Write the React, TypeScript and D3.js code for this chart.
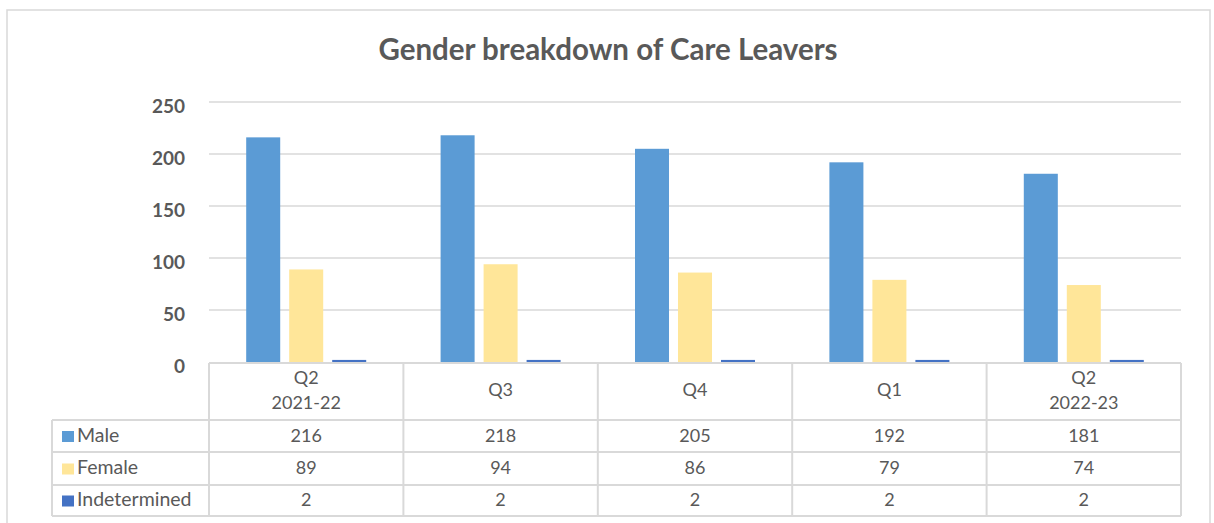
import React from 'react'
import * as d3 from 'd3'

const categories = [['Q2', '2021-22'], ['Q3'], ['Q4'], ['Q1'], ['Q2', '2022-23']]
const seriesNames = ['Male', 'Female', 'Indetermined']
const male = [216, 218, 205, 192, 181]
const female = [89, 94, 86, 79, 74]
const indetermined = [2, 2, 2, 2, 2]
const yTicks = [0, 50, 100, 150, 200, 250]
const colors = ['#5b9bd5', '#ffe699', '#4472c4']

const FONT = 'Lato, Carlito, Calibri, sans-serif'
const TEXT = '#595959'
const GRID = '#d9d9d9'

export default function App() {
    const width = 1214
    const height = 523
    const left = 209
    const right = 1181
    const top = 102
    const bottom = 363
    const rows = [420, 452, 485, 516]
    const tableLeft = 52

    const values = [male, female, indetermined]
    const keys = categories.map((c) => c.join(' '))

    const x0 = d3.scaleBand().domain(keys).range([left, right]).padding(0)
    const x1 = d3
        .scaleBand()
        .domain(seriesNames)
        .range([0, x0.bandwidth()])
        .paddingInner(0.209)
        .paddingOuter(0.865)
    const y = d3.scaleLinear().domain([0, 250]).range([bottom - 1, top])

    const colEdges = keys.map((k) => x0(k)).concat([right])

    return (
        <svg
            width={width}
            height={height}
            style={{ position: 'absolute', left: 0, top: 0, background: '#fff' }}
            fontFamily={FONT}
        >
            <rect x={7} y={10} width={1203} height={530} fill="#fff" stroke={GRID} strokeWidth={1.5} />
            <text x={608} y={60} textAnchor="middle" fontSize={29.5} fontWeight="bold" fill={TEXT}>
                Gender breakdown of Care Leavers
            </text>

            {yTicks.map((t) => (
                <g key={t}>
                    {t > 0 && (
                        <line x1={left} x2={right} y1={y(t)} y2={y(t)} stroke={GRID} strokeWidth={1.5} />
                    )}
                    <text
                        x={185}
                        y={y(t) + 6}
                        textAnchor="end"
                        dominantBaseline="middle"
                        fontSize={19}
                        fontWeight="bold"
                        fill={TEXT}
                    >
                        {t}
                    </text>
                </g>
            ))}

            {/* data table */}
            <g stroke={GRID} strokeWidth={2} fill="none">
                <line x1={left} x2={right} y1={bottom} y2={bottom} />
                {rows.map((r) => (
                    <line key={r} x1={tableLeft} x2={right} y1={r} y2={r} />
                ))}
                <line x1={tableLeft} x2={tableLeft} y1={rows[0]} y2={rows[3]} />
                {colEdges.map((cx, i) => (
                    <line key={i} x1={cx} x2={cx} y1={bottom} y2={rows[3]} />
                ))}
            </g>

            {keys.map((k, i) => (
                <g key={k} transform={`translate(${x0(k)},0)`}>
                    {seriesNames.map((s, j) => (
                        <rect
                            key={s}
                            x={x1(s)}
                            y={y(values[j][i])}
                            width={x1.bandwidth()}
                            height={y(0) - y(values[j][i])}
                            fill={colors[j]}
                        />
                    ))}
                </g>
            ))}

            {categories.map((c, i) => {
                const cx = x0(keys[i]) + x0.bandwidth() / 2
                const mid = (bottom + rows[0]) / 2
                return c.map((line, li) => (
                    <text
                        key={i + '-' + li}
                        x={cx}
                        y={c.length === 1 ? mid : mid + (li - 0.5) * 25}
                        textAnchor="middle"
                        dominantBaseline="middle"
                        fontSize={18}
                        fill={TEXT}
                    >
                        {line}
                    </text>
                ))
            })}

            {seriesNames.map((s, j) => {
                const cy = (rows[j] + rows[j + 1]) / 2
                return (
                    <g key={s}>
                        <rect x={62} y={cy - 5} width={12} height={11} fill={colors[j]} />
                        <text x={77} y={cy + 1} dominantBaseline="middle" fontSize={19.5} fill={TEXT}>
                            {s}
                        </text>
                        {values[j].map((v, i) => (
                            <text
                                key={i}
                                x={x0(keys[i]) + x0.bandwidth() / 2}
                                y={cy + 1}
                                textAnchor="middle"
                                dominantBaseline="middle"
                                fontSize={18}
                                fill={TEXT}
                            >
                                {v}
                            </text>
                        ))}
                    </g>
                )
            })}
        </svg>
    )
}
